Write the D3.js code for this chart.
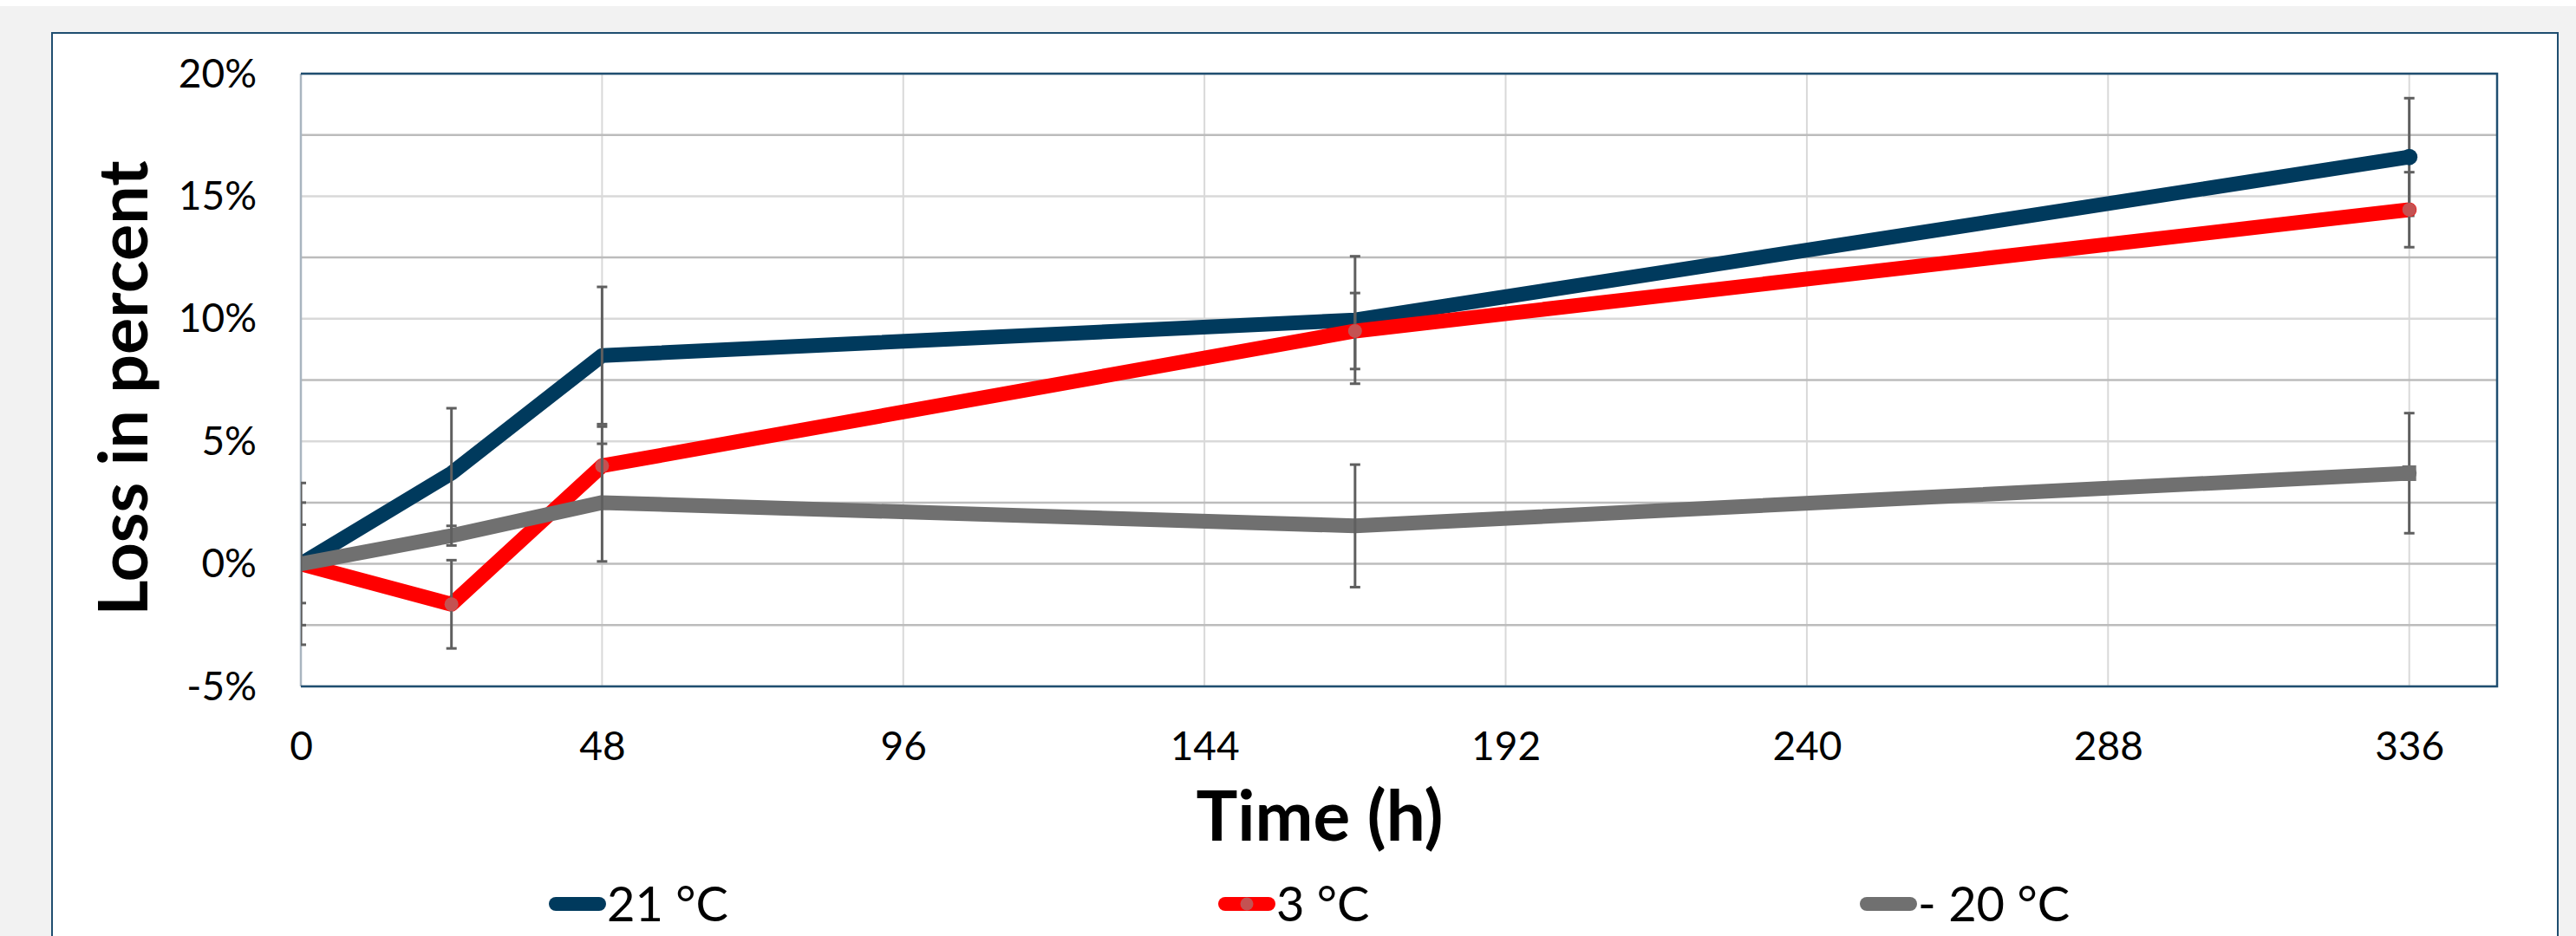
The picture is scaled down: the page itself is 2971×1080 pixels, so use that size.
<!DOCTYPE html>
<html lang="en">
<head>
    <meta charset="UTF-8">
    <title>Loss in percent</title>
    <script src="https://cdn.jsdelivr.net/npm/d3@7/dist/d3.min.js"></script>
    <style>
        html, body { margin: 0; padding: 0; background: #f2f2f2; }
        svg { display: block; }
    </style>
</head>
<body>
    <svg width="2971" height="1080" id="mainsvg"></svg>
    <script>
        // data
        const hours = [0, 24, 48, 168, 336];
        const loss21 = [0, 3.7, 8.5, 9.95, 16.6];
        const err21 = [3.3, 2.65, 2.8, 2.6, 2.4];
        const loss3 = [0, -1.65, 4.0, 9.5, 14.45];
        const err3 = [1.6, 1.8, 1.6, 1.55, 1.53];
        const lossM20 = [0, 1.15, 2.5, 1.55, 3.7];
        const errM20 = [2.5, 0.4, 2.4, 2.5, 2.45];
        const seriesNames = ['21 °C', '3 °C', '- 20 °C'];
        const xTicks = [0, 48, 96, 144, 192, 240, 288, 336];
        const yTicks = [-5, 0, 5, 10, 15, 20];
        const yGrid = [-5, -2.5, 0, 2.5, 5, 7.5, 10, 12.5, 15, 17.5, 20];

        const svg = d3.select('#mainsvg');
        const width = +svg.attr('width');
        const height = +svg.attr('height');
        const plot = { left: 347, top: 85, right: 2880, bottom: 792 };

        const x = d3.scaleLinear().domain([0, 350]).range([plot.left, plot.right]);
        const y = d3.scaleLinear().domain([-5, 20]).range([plot.bottom, plot.top]);

        const series = [
            { name: seriesNames[0], values: loss21, err: err21, color: '#003a5d', marker: 'endDot' },
            { name: seriesNames[1], values: loss3, err: err3, color: '#ff0000', marker: 'circle' },
            { name: seriesNames[2], values: lossM20, err: errM20, color: '#707070', marker: 'endSquare' }
        ];

        // background and card
        svg.append('rect').attr('width', width).attr('height', height).attr('fill', '#f2f2f2');
        svg.append('rect').attr('width', width).attr('height', 7).attr('fill', '#ffffff');
        svg.append('rect')
            .attr('x', 60).attr('y', 38).attr('width', 2890).attr('height', 1100)
            .attr('fill', '#ffffff').attr('stroke', '#1f4e70').attr('stroke-width', 2);

        svg.append('defs').append('clipPath').attr('id', 'plotclip')
            .append('rect')
            .attr('x', plot.left).attr('y', plot.top - 20)
            .attr('width', plot.right - plot.left + 20).attr('height', plot.bottom - plot.top + 40);

        const g = svg.append('g');

        // gridlines
        g.selectAll('line.vgrid').data(xTicks.filter(d => d > 0)).join('line')
            .attr('class', 'vgrid')
            .attr('x1', d => x(d)).attr('x2', d => x(d))
            .attr('y1', plot.top).attr('y2', plot.bottom)
            .attr('stroke', '#d9d9d9').attr('stroke-width', 2);

        g.selectAll('line.hgrid').data(yGrid).join('line')
            .attr('class', 'hgrid')
            .attr('x1', plot.left).attr('x2', plot.right)
            .attr('y1', d => y(d)).attr('y2', d => y(d))
            .attr('stroke', d => (d % 5 === 0 && d !== 0) ? '#d9d9d9' : '#bcbcbc')
            .attr('stroke-width', 2.5);

        // plot frame
        g.append('line').attr('x1', plot.left).attr('x2', plot.left)
            .attr('y1', plot.top).attr('y2', plot.bottom)
            .attr('stroke', '#a9b5c0').attr('stroke-width', 2.5);
        g.append('path')
            .attr('d', `M${plot.left},${plot.top}H${plot.right}V${plot.bottom}H${plot.left}`)
            .attr('fill', 'none').attr('stroke', '#1f4e70').attr('stroke-width', 2.5);

        // axes labels
        const xAxis = d3.axisBottom(x).tickValues(xTicks).tickSize(0).tickPadding(0);
        const ax = svg.append('g').attr('transform', `translate(0,${plot.bottom})`).call(xAxis);
        ax.select('.domain').remove();
        ax.selectAll('text')
            .attr('y', 85).attr('dy', 0)
            .attr('font-family', 'Lato, sans-serif').attr('font-size', 46).attr('fill', '#000');

        const yAxis = d3.axisLeft(y).tickValues(yTicks).tickSize(0).tickPadding(0).tickFormat(d => d + '%');
        const ay = svg.append('g').attr('transform', `translate(${plot.left},0)`).call(yAxis);
        ay.select('.domain').remove();
        ay.selectAll('text')
            .attr('x', -51).attr('dy', 15)
            .attr('font-family', 'Lato, sans-serif').attr('font-size', 46).attr('fill', '#000');

        svg.append('text')
            .attr('transform', 'translate(170,448) rotate(-90)')
            .attr('text-anchor', 'middle')
            .attr('font-family', 'Lato, sans-serif').attr('font-weight', 'bold').attr('font-size', 79)
            .text('Loss in percent');

        svg.append('text')
            .attr('x', 1522).attr('y', 970)
            .attr('text-anchor', 'middle')
            .attr('font-family', 'Lato, sans-serif').attr('font-weight', 'bold').attr('font-size', 80)
            .text('Time (h)');

        // series
        const line = d3.line().x(d => x(d.h)).y(d => y(d.v));
        const plotG = g.append('g').attr('clip-path', 'url(#plotclip)');

        series.forEach(s => {
            const pts = hours.map((h, i) => ({ h: h, v: s.values[i], e: s.err[i] }));

            plotG.append('path').datum(pts)
                .attr('d', line)
                .attr('fill', 'none')
                .attr('stroke', s.color)
                .attr('stroke-width', 17)
                .attr('stroke-linejoin', 'round')
                .attr('stroke-linecap', 'round');

            const eb = plotG.append('g').selectAll('g').data(pts).join('g');
            eb.append('line')
                .attr('x1', d => x(d.h)).attr('x2', d => x(d.h))
                .attr('y1', d => y(d.v + d.e)).attr('y2', d => y(d.v - d.e))
                .attr('stroke', '#5f5f5f').attr('stroke-width', 3);
            [1, -1].forEach(sign => {
                eb.append('line')
                    .attr('x1', d => x(d.h) - 6).attr('x2', d => x(d.h) + 6)
                    .attr('y1', d => y(d.v + sign * d.e)).attr('y2', d => y(d.v + sign * d.e))
                    .attr('stroke', '#5f5f5f').attr('stroke-width', 3);
            });

            const last = pts[pts.length - 1];
            if (s.marker === 'circle') {
                plotG.append('g').selectAll('circle').data(pts.slice(1)).join('circle')
                    .attr('cx', d => x(d.h)).attr('cy', d => y(d.v)).attr('r', 8)
                    .attr('fill', '#c45252');
            }
            if (s.marker === 'endDot') {
                plotG.append('circle')
                    .attr('cx', x(last.h)).attr('cy', y(last.v)).attr('r', 9.5)
                    .attr('fill', s.color);
            }
            if (s.marker === 'endSquare') {
                plotG.append('rect')
                    .attr('x', x(last.h) - 8).attr('y', y(last.v) - 9)
                    .attr('width', 16).attr('height', 18)
                    .attr('fill', s.color);
            }
        });

        // legend
        const legendX = [633, 1405, 2145];
        const legendY = 1043;
        const lg = svg.append('g').selectAll('g').data(series).join('g')
            .attr('transform', (d, i) => `translate(${legendX[i]},${legendY})`);
        lg.append('line')
            .attr('x1', 8).attr('x2', 58).attr('y1', 0).attr('y2', 0)
            .attr('stroke', d => d.color).attr('stroke-width', 16).attr('stroke-linecap', 'round');
        lg.filter(d => d.marker === 'circle').append('circle')
            .attr('cx', 33).attr('cy', 0).attr('r', 7.5).attr('fill', '#c45252');
        lg.append('text')
            .attr('x', 67).attr('y', 20)
            .attr('font-family', 'Lato, sans-serif').attr('font-size', 56).attr('fill', '#000')
            .text(d => d.name);
    </script>
</body>
</html>
